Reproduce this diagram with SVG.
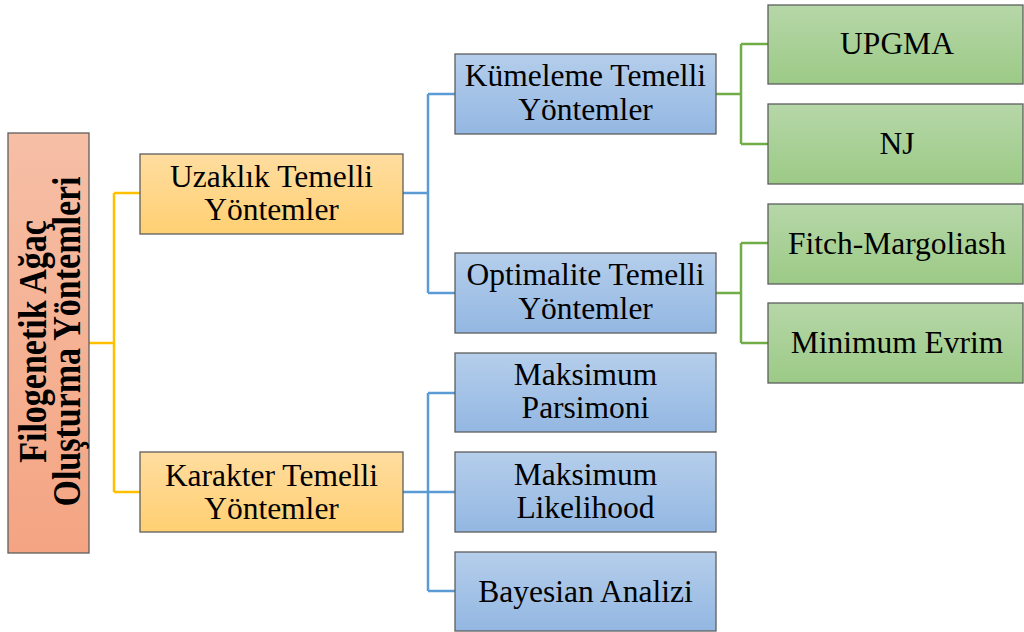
<svg xmlns="http://www.w3.org/2000/svg" width="1024" height="632" viewBox="0 0 1024 632">
<defs>
<linearGradient id="gRoot" x1="0" y1="0" x2="0" y2="1"><stop offset="0" stop-color="#F6BFA6"/><stop offset="1" stop-color="#F4A482"/></linearGradient>
<linearGradient id="gY" x1="0" y1="0" x2="0" y2="1"><stop offset="0" stop-color="#FFDDA0"/><stop offset="1" stop-color="#FFD072"/></linearGradient>
<linearGradient id="gB" x1="0" y1="0" x2="0" y2="1"><stop offset="0" stop-color="#B5CEEB"/><stop offset="1" stop-color="#93B7E2"/></linearGradient>
<linearGradient id="gG" x1="0" y1="0" x2="0" y2="1"><stop offset="0" stop-color="#B6D7A8"/><stop offset="1" stop-color="#9CCA86"/></linearGradient>
</defs>
<style>
rect{stroke:#5E5E5E;stroke-width:1.3}
text{font-family:"Liberation Serif","Times New Roman",serif;font-size:31.5px;fill:#000;text-anchor:middle}
.b{font-weight:bold;font-size:34px}
.c{fill:none;stroke-width:2.5}
.cy{stroke:#FFC000}.cb{stroke:#5B9BD5}.cg{stroke:#70AD47}
</style>
<rect width="1024" height="632" fill="#fff" style="stroke:none"/>
<g id="connectors">
<path class="c cy" d="M89,343H114M114,193V492M114,193H140M114,492H140"/>
<path class="c cb" d="M403,193H428M428,94V293M428,94H455M428,293H455"/>
<path class="c cb" d="M403,492H455M428,393V591M428,393H455M428,591H455"/>
<path class="c cg" d="M716,94H741M741,44V144M741,44H768M741,144H768"/>
<path class="c cg" d="M716,293H741M741,243V343M741,243H768M741,343H768"/>
</g>
<g id="root"><rect x="8" y="133" width="81" height="420" fill="url(#gRoot)"/>
<g transform="translate(48.5,341.5) rotate(-90) scale(1,1.15)"><text class="b" x="0" y="-2.6">Filogenetik Ağaç</text><text class="b" x="0" y="27.8">Oluşturma Yöntemleri</text></g></g>
<g id="uzaklik"><rect x="140" y="154" width="263" height="80" fill="url(#gY)"/><text x="271.5" y="187">Uzaklık Temelli</text><text x="271.5" y="220">Yöntemler</text></g>
<g id="karakter"><rect x="140" y="452" width="263" height="80" fill="url(#gY)"/><text x="271.5" y="486">Karakter Temelli</text><text x="271.5" y="519">Yöntemler</text></g>
<g id="kumeleme"><rect x="455" y="54" width="261" height="80" fill="url(#gB)"/><text x="585.5" y="86">Kümeleme Temelli</text><text x="585.5" y="120">Yöntemler</text></g>
<g id="optimalite"><rect x="455" y="253" width="261" height="80" fill="url(#gB)"/><text x="585.5" y="285">Optimalite Temelli</text><text x="585.5" y="319">Yöntemler</text></g>
<g id="parsimoni"><rect x="455" y="353" width="261" height="79" fill="url(#gB)"/><text x="585.5" y="385">Maksimum</text><text x="585.5" y="418">Parsimoni</text></g>
<g id="likelihood"><rect x="455" y="452" width="261" height="80" fill="url(#gB)"/><text x="585.5" y="485">Maksimum</text><text x="585.5" y="518">Likelihood</text></g>
<g id="bayesian"><rect x="455" y="552" width="261" height="79" fill="url(#gB)"/><text x="585.5" y="602">Bayesian Analizi</text></g>
<g id="upgma"><rect x="768" y="5" width="255" height="79" fill="url(#gG)"/><text x="897" y="54">UPGMA</text></g>
<g id="nj"><rect x="768" y="104" width="255" height="80" fill="url(#gG)"/><text x="897" y="154">NJ</text></g>
<g id="fitch"><rect x="768" y="204" width="255" height="80" fill="url(#gG)"/><text x="897" y="254">Fitch-Margoliash</text></g>
<g id="minimum"><rect x="768" y="303" width="255" height="80" fill="url(#gG)"/><text x="897" y="353">Minimum Evrim</text></g>
</svg>
